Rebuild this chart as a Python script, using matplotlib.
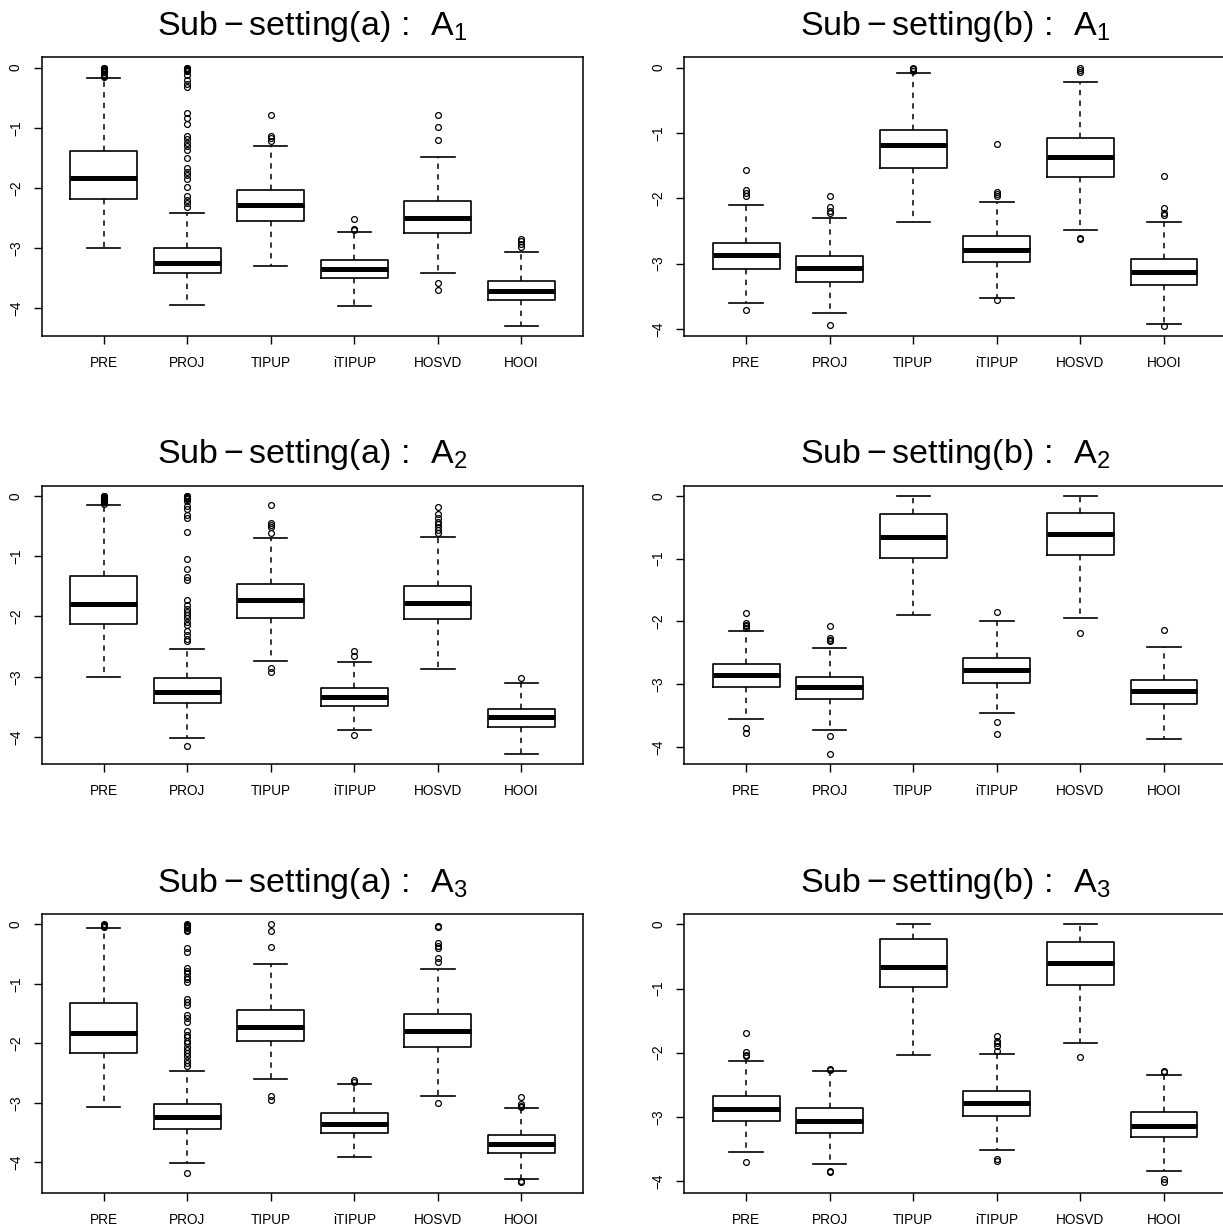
import matplotlib
matplotlib.use("Agg")
import matplotlib.pyplot as plt

plt.rcParams['font.family'] = ['Liberation Sans', 'DejaVu Sans']
plt.rcParams['mathtext.fontset'] = 'custom'
plt.rcParams['mathtext.rm'] = 'Liberation Sans'
plt.rcParams['mathtext.it'] = 'Liberation Sans'
plt.rcParams['mathtext.bf'] = 'Liberation Sans:bold'

methods = ["PRE", "PROJ", "TIPUP", "iTIPUP", "HOSVD", "HOOI"]
yticks = [0, -1, -2, -3, -4]

# ---- Sub-setting (a): A1 ----
a1_lo  = [-3.00, -3.95, -3.29, -3.96, -3.41, -4.29]
a1_q1  = [-2.18, -3.42, -2.55, -3.50, -2.75, -3.87]
a1_med = [-1.83, -3.25, -2.29, -3.35, -2.50, -3.71]
a1_q3  = [-1.385, -3.00, -2.03, -3.19, -2.22, -3.55]
a1_hi  = [-0.18, -2.41, -1.30, -2.73, -1.48, -3.07]
a1_out = [
    [0.0, -0.01, -0.02, -0.03, -0.04, -0.05, -0.06, -0.08, -0.10, -0.12, -0.14, -0.16],
    [0.0, -0.01, -0.02, -0.03, -0.04, -0.05, -0.06, -0.12, -0.20, -0.27, -0.33, -0.75,
     -0.83, -0.94, -1.14, -1.19, -1.25, -1.30, -1.37, -1.51, -1.67, -1.73, -1.78,
     -1.85, -1.99, -2.14, -2.20, -2.25, -2.32],
    [-0.79, -1.14, -1.17, -1.22],
    [-2.52, -2.68, -2.70],
    [-0.78, -0.99, -1.21, -3.58, -3.70],
    [-2.85, -2.89, -2.93, -2.99],
]

# ---- Sub-setting (b): A1 ----
b1_lo  = [-3.60, -3.75, -2.37, -3.52, -2.48, -3.93]
b1_q1  = [-3.08, -3.28, -1.53, -2.97, -1.67, -3.33]
b1_med = [-2.87, -3.06, -1.19, -2.79, -1.37, -3.13]
b1_q3  = [-2.69, -2.88, -0.95, -2.58, -1.07, -2.93]
b1_hi  = [-2.11, -2.30, -0.08, -2.05, -0.22, -2.37]
b1_out = [
    [-1.56, -1.88, -1.92, -1.97, -3.71],
    [-1.97, -2.13, -2.19, -2.23, -3.94],
    [0.0, -0.02, -0.05],
    [-1.17, -1.91, -1.94, -1.97, -3.56],
    [0.0, -0.03, -0.06, -2.61, -2.63],
    [-1.66, -2.15, -2.22, -2.26, -3.95],
]

# ---- Sub-setting (a): A2 ----
a2_lo  = [-3.01, -4.02, -2.74, -3.89, -2.87, -4.28]
a2_q1  = [-2.12, -3.43, -2.02, -3.48, -2.05, -3.83]
a2_med = [-1.80, -3.25, -1.73, -3.33, -1.78, -3.67]
a2_q3  = [-1.33, -3.02, -1.47, -3.18, -1.50, -3.53]
a2_hi  = [-0.15, -2.54, -0.70, -2.76, -0.69, -3.10]
a2_out = [
    [0.0, -0.01, -0.02, -0.03, -0.04, -0.05, -0.07, -0.09, -0.11, -0.13],
    [0.0, -0.01, -0.02, -0.03, -0.04, -0.06, -0.08, -0.17, -0.22, -0.32, -0.36, -0.60,
     -1.05, -1.22, -1.34, -1.39, -1.73, -1.81, -1.87, -1.92, -1.98, -2.03, -2.09,
     -2.14, -2.25, -2.31, -2.37, -2.40, -4.15],
    [-0.155, -0.45, -0.49, -0.52, -0.62, -2.86, -2.93],
    [-2.57, -2.66, -3.96],
    [-0.18, -0.30, -0.36, -0.43, -0.47, -0.52, -0.57, -0.62],
    [-3.02],
]

# ---- Sub-setting (b): A2 ----
b2_lo  = [-3.55, -3.73, -1.90, -3.46, -1.94, -3.87]
b2_q1  = [-3.05, -3.24, -0.99, -2.98, -0.94, -3.32]
b2_med = [-2.86, -3.05, -0.65, -2.77, -0.61, -3.11]
b2_q3  = [-2.68, -2.89, -0.29, -2.58, -0.28, -2.94]
b2_hi  = [-2.15, -2.42, 0.0, -1.99, 0.0, -2.41]
b2_out = [
    [-1.87, -2.02, -2.05, -2.08, -2.11, -3.69, -3.78],
    [-2.07, -2.27, -2.30, -2.32, -3.82, -4.11],
    [],
    [-1.85, -3.60, -3.79],
    [-2.19],
    [-2.13],
]

# ---- Sub-setting (a): A3 ----
a3_lo  = [-3.08, -4.02, -2.60, -3.92, -2.89, -4.29]
a3_q1  = [-2.16, -3.45, -1.97, -3.51, -2.07, -3.85]
a3_med = [-1.82, -3.24, -1.73, -3.35, -1.79, -3.70]
a3_q3  = [-1.32, -3.03, -1.44, -3.17, -1.51, -3.55]
a3_hi  = [-0.06, -2.46, -0.67, -2.68, -0.75, -3.09]
a3_out = [
    [0.0, -0.01, -0.02, -0.03, -0.04],
    [0.0, -0.01, -0.02, -0.03, -0.05, -0.07, -0.10, -0.12, -0.40, -0.47, -0.74, -0.78,
     -0.82, -0.88, -0.92, -0.97, -1.26, -1.31, -1.36, -1.52, -1.58, -1.64, -1.80,
     -1.86, -1.90, -1.96, -2.00, -2.06, -2.11, -2.17, -2.22, -2.28, -2.34, -2.38, -4.18],
    [0.0, -0.12, -0.38, -2.89, -2.95],
    [-2.62, -2.66],
    [-0.03, -0.05, -0.32, -0.36, -0.40, -0.57, -0.63, -3.01],
    [-2.90, -3.02, -3.06, -3.08, -4.31, -4.34],
]

# ---- Sub-setting (b): A3 ----
b3_lo  = [-3.54, -3.74, -2.04, -3.51, -1.85, -3.84]
b3_q1  = [-3.07, -3.25, -0.97, -2.99, -0.94, -3.31]
b3_med = [-2.87, -3.07, -0.67, -2.78, -0.61, -3.14]
b3_q3  = [-2.67, -2.86, -0.23, -2.59, -0.27, -2.92]
b3_hi  = [-2.13, -2.29, 0.0, -2.02, 0.0, -2.34]
b3_out = [
    [-1.70, -1.99, -2.03, -2.05, -3.71],
    [-2.25, -2.27, -3.84, -3.86],
    [],
    [-1.74, -1.81, -1.85, -1.89, -1.98, -3.66, -3.68],
    [-2.07],
    [-2.29, -2.30, -3.97, -4.02],
]

panels = [
    ("a", "1", a1_lo, a1_q1, a1_med, a1_q3, a1_hi, a1_out),
    ("b", "1", b1_lo, b1_q1, b1_med, b1_q3, b1_hi, b1_out),
    ("a", "2", a2_lo, a2_q1, a2_med, a2_q3, a2_hi, a2_out),
    ("b", "2", b2_lo, b2_q1, b2_med, b2_q3, b2_hi, b2_out),
    ("a", "3", a3_lo, a3_q1, a3_med, a3_q3, a3_hi, a3_out),
    ("b", "3", b3_lo, b3_q1, b3_med, b3_q3, b3_hi, b3_out),
]

W, H = 1223, 1228
fig = plt.figure(figsize=(W / 100, H / 100), dpi=100)

ax_left_px = [41.7, 684.3]
ax_w_px = 541.6
ax_top_px = [57.3, 485.5, 914.0]
ax_h_px = 278.7
title_base_px = [35.0, 463.3, 891.7]

for i, (sub, k, lo, q1, med, q3, hi, out) in enumerate(panels):
    row, col = divmod(i, 2)
    left = ax_left_px[col] / W
    bottom = 1 - (ax_top_px[row] + ax_h_px) / H
    ax = fig.add_axes([left, bottom, ax_w_px / W, ax_h_px / H])

    stats = []
    for j in range(len(methods)):
        stats.append(dict(med=med[j], q1=q1[j], q3=q3[j], whislo=lo[j],
                          whishi=hi[j], fliers=out[j], label=methods[j]))
    ax.bxp(stats, positions=range(1, 7), widths=0.8, capwidths=0.4,
           showfliers=True,
           boxprops=dict(color="black", linewidth=1.2),
           medianprops=dict(color="black", linewidth=3.6, solid_capstyle="butt"),
           whiskerprops=dict(color="black", linewidth=1.1, linestyle=(0, (3.5, 3.5))),
           capprops=dict(color="black", linewidth=1.2),
           flierprops=dict(marker="o", markerfacecolor="none", markeredgecolor="black",
                           markersize=4.2, markeredgewidth=0.9, linestyle="none"))

    allv = lo + hi + [v for o in out for v in o]
    ymin, ymax = min(allv), max(allv)
    ext = 0.04 * (ymax - ymin)
    ax.set_ylim(ymin - ext, ymax + ext)
    ax.set_xlim(0.5 - 0.24, 6.5 + 0.24)

    ax.set_yticks(yticks)
    ax.set_yticklabels([str(t) if t == 0 else "\u2212" + str(-t) for t in yticks])
    ax.set_xticks(range(1, 7))
    ax.set_xticklabels(methods)
    ax.tick_params(axis="both", direction="out", length=6, width=1.0,
                   labelsize=9.8, color="black")
    ax.tick_params(axis="y", pad=7.5)
    ax.tick_params(axis="x", pad=8.5)
    for lab in ax.get_yticklabels():
        lab.set_rotation(90)
        lab.set_va("center")
    for s in ax.spines.values():
        s.set_linewidth(1.1)

    cx = (ax_left_px[col] + ax_w_px / 2) / W
    fig.text(cx, 1 - title_base_px[row] / H,
             r"$\mathrm{Sub-setting(%s)\,:\ \,A_{%s}}$" % (sub, k),
             ha="center", va="baseline", fontsize=24.5)

fig.savefig("out.png", dpi=100)
